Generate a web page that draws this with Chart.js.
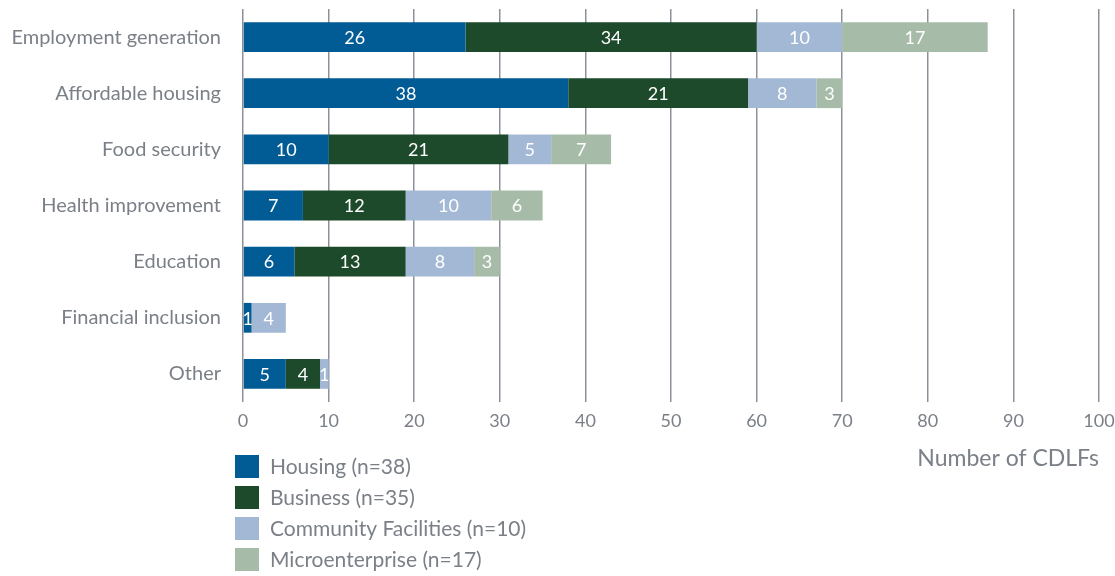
<!DOCTYPE html>
<html>
<head>
<meta charset="utf-8">
<script src="https://cdn.jsdelivr.net/npm/chart.js@4.4.1/dist/chart.umd.min.js"></script>
<style>
  html, body { margin: 0; padding: 0; background: #ffffff; }
  #wrap { width: 1115px; height: 576px; position: relative; }
</style>
</head>
<body>
<div id="wrap"><canvas id="c" width="1115" height="576"></canvas></div>
<script>
const categories = ["Employment generation", "Affordable housing", "Food security", "Health improvement", "Education", "Financial inclusion", "Other"];
const housing = [26, 38, 10, 7, 6, 1, 5];
const business = [34, 21, 21, 12, 13, 0, 4];
const community = [10, 8, 5, 10, 8, 4, 1];
const microenterprise = [17, 3, 7, 6, 3, 0, 0];
const seriesLabels = ["Housing (n=38)", "Business (n=35)", "Community Facilities (n=10)", "Microenterprise (n=17)"];
const xTicks = [0, 10, 20, 30, 40, 50, 60, 70, 80, 90, 100];
const axisTitle = "Number of CDLFs";

const colors = ["#015b95", "#1c4a2b", "#a3b8d5", "#a7bca8"];
const textColor = "#7b8088";
const fontFamily = "Lato, 'Open Sans', sans-serif";

const valueLabels = {
  id: 'valueLabels',
  afterDatasetsDraw(chart) {
    const ctx = chart.ctx;
    ctx.save();
    ctx.font = "18px " + fontFamily;
    ctx.fillStyle = "#ffffff";
    ctx.textAlign = "center";
    ctx.textBaseline = "middle";
    chart.data.datasets.forEach((ds, i) => {
      const meta = chart.getDatasetMeta(i);
      meta.data.forEach((bar, j) => {
        const v = ds.data[j];
        if (!v) return;
        const p = bar.getProps(['x', 'base', 'y'], true);
        ctx.fillText(String(v), (p.x + p.base) / 2, p.y + 1);
      });
    });
    ctx.restore();
  }
};

const stackLegend = {
  id: 'stackLegend',
  afterDraw(chart) {
    const ctx = chart.ctx;
    const area = chart.chartArea;
    ctx.save();
    ctx.font = "21px " + fontFamily;
    ctx.textAlign = "left";
    ctx.textBaseline = "middle";
    const x0 = area.left - 8;
    const y0 = area.bottom + 53;
    chart.data.datasets.forEach((ds, i) => {
      const y = y0 + i * 31;
      ctx.fillStyle = ds.backgroundColor;
      ctx.fillRect(x0, y, 24, 23);
      ctx.fillStyle = textColor;
      ctx.fillText(ds.label, x0 + 35, y + 12);
    });
    ctx.restore();
  }
};

new Chart(document.getElementById('c'), {
  type: 'bar',
  data: {
    labels: categories,
    datasets: [
      { label: seriesLabels[0], data: housing, backgroundColor: colors[0] },
      { label: seriesLabels[1], data: business, backgroundColor: colors[1] },
      { label: seriesLabels[2], data: community, backgroundColor: colors[2] },
      { label: seriesLabels[3], data: microenterprise, backgroundColor: colors[3] }
    ]
  },
  options: {
    indexAxis: 'y',
    responsive: false,
    animation: false,
    datasets: { bar: { categoryPercentage: 1, barPercentage: 0.53, borderWidth: 0 } },
    layout: { padding: { left: 0, right: 16, top: 9, bottom: 100 } },
    plugins: { legend: { display: false }, tooltip: { enabled: false } },
    scales: {
      x: {
        stacked: true,
        min: 0, max: 100,
        afterBuildTicks(scale) { scale.ticks = xTicks.map(v => ({ value: v })); },
        afterFit(scale) { scale.height = 74; },
        grid: { color: "#8c9199", lineWidth: 1.5, drawTicks: true, tickLength: 8, tickColor: 'rgba(0,0,0,0)' },
        border: { display: false },
        ticks: { color: textColor, font: { family: fontFamily, size: 18 }, padding: 0 },
        title: {
          display: true, text: axisTitle, align: 'end', color: textColor,
          font: { family: fontFamily, size: 23 }, padding: { top: 12 }
        }
      },
      y: {
        stacked: true,
        afterFit(scale) { scale.width = 243; },
        grid: { display: true, drawOnChartArea: false, drawTicks: true, tickLength: 22, tickColor: 'rgba(0,0,0,0)' },
        border: { display: false },
        ticks: { color: textColor, font: { family: fontFamily, size: 20, lineHeight: 0.9 }, padding: 0 }
      }
    }
  },
  plugins: [valueLabels, stackLegend]
});
</script>
</body>
</html>
